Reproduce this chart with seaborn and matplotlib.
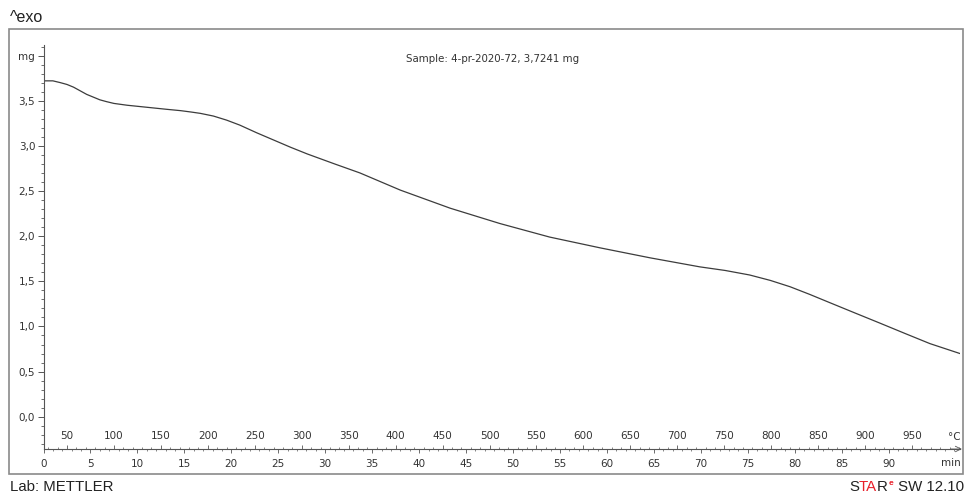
import numpy as np
import pandas as pd
import seaborn as sns
import matplotlib.pyplot as plt
from matplotlib.patches import Rectangle
from matplotlib.ticker import MultipleLocator, FixedLocator, FixedFormatter
import matplotlib.transforms as mtransforms

# TGA curve: time in min, mass in mg
time_min = [0.0, 1.0, 1.8, 2.5, 3.2, 3.9, 4.6, 5.3, 6.0, 6.7, 7.5, 8.9, 10.3,
            11.7, 13.1, 14.6, 15.7, 16.7, 17.4, 18.1, 19.5, 20.9, 22.7, 24.5,
            26.3, 28.1, 31.0, 33.7, 38.0, 43.3, 48.6, 53.9, 59.3, 64.6, 69.9,
            72.6, 75.2, 77.4, 79.5, 81.6, 83.7, 86.4, 89.0, 91.8, 94.4, 97.6]
mass_mg = [3.72, 3.72, 3.70, 3.68, 3.65, 3.61, 3.57, 3.54, 3.51, 3.49, 3.47,
           3.45, 3.435, 3.42, 3.405, 3.39, 3.375, 3.36, 3.345, 3.33, 3.285,
           3.23, 3.145, 3.065, 2.985, 2.91, 2.80, 2.70, 2.51, 2.31, 2.14, 1.99,
           1.87, 1.76, 1.66, 1.62, 1.57, 1.51, 1.44, 1.355, 1.265, 1.15, 1.04,
           0.92, 0.81, 0.70]

y_ticks = [0.0, 0.5, 1.0, 1.5, 2.0, 2.5, 3.0, 3.5, 4.0]
y_labels = ['0,0', '0,5', '1,0', '1,5', '2,0', '2,5', '3,0', '3,5', 'mg']
time_ticks = list(range(0, 95, 5))
temp_ticks = list(range(50, 1000, 50))

T_START = 25.0   # deg C at t = 0
RATE = 10.0      # K/min

sample_text = 'Sample: 4-pr-2020-72, 3,7241 mg'

sns.set_style('white')
plt.rcParams['font.family'] = ['DejaVu Sans']

df = pd.DataFrame({'time': time_min, 'mass': mass_mg})

W, H = 969, 494
fig = plt.figure(figsize=(W / 100, H / 100), dpi=100)

# outer frame
fig.patches.append(Rectangle((9 / W, 1 - 474 / H), (963 - 9) / W, (474 - 29) / H,
                             transform=fig.transFigure, fill=False,
                             edgecolor='#8a8a8a', lw=1.2))

ax = fig.add_axes([43.5 / W, 1 - 449 / H, 916.5 / W, (449 - 45) / H])
sns.lineplot(data=df, x='time', y='mass', ax=ax, color='#3c3c3c', lw=0.9)

ax.set_xlim(0, 97.6)
ax.set_ylim(-0.357, 4.117)
ax.set_xlabel('')
ax.set_ylabel('')
for s in ['top', 'right']:
    ax.spines[s].set_visible(False)
for s in ['left', 'bottom']:
    ax.spines[s].set_color('#555555')
    ax.spines[s].set_linewidth(0.8)

grey = '#333333'
ax.yaxis.set_major_locator(FixedLocator(y_ticks))
ax.yaxis.set_major_formatter(FixedFormatter(y_labels))
ax.yaxis.set_minor_locator(MultipleLocator(0.1))
ax.tick_params(axis='y', which='major', length=4, width=0.7, color='#555555',
               labelsize=7.5, labelcolor=grey, pad=2, left=True)
ax.tick_params(axis='y', which='minor', length=2, width=0.6, color='#555555', left=True)

ax.xaxis.set_major_locator(FixedLocator(time_ticks))
ax.xaxis.set_minor_locator(MultipleLocator(1))
ax.tick_params(axis='x', which='major', length=3, width=0.6, color='#555555',
               labelsize=7.5, labelcolor=grey, pad=4.5, bottom=True)
ax.tick_params(axis='x', which='minor', length=1.5, width=0.5, color='#555555', bottom=True)

# temperature scale on the same axis line, ticks and labels above it
sec = ax.secondary_xaxis(0.0, functions=(lambda t: T_START + RATE * t,
                                         lambda T: (T - T_START) / RATE))
sec.set_alignment('top')
sec.spines['top'].set_visible(False)
sec.xaxis.set_major_locator(FixedLocator(temp_ticks))
sec.xaxis.set_minor_locator(MultipleLocator(10))
sec.tick_params(axis='x', which='major', length=3, width=0.6, color='#555555',
                labelsize=7.5, labelcolor=grey, pad=3)
sec.tick_params(axis='x', which='minor', length=1.8, width=0.5, color='#555555')

trans = mtransforms.blended_transform_factory(ax.transData, ax.transAxes)
ax.text(96.6, -0.023, 'min', transform=trans, ha='center', va='top',
        fontsize=7.5, color=grey)
ax.text(97.0, 0.017, '\u00b0C', transform=trans, ha='center', va='bottom',
        fontsize=7.5, color=grey)
ax.annotate('', xy=(1.002, 0), xytext=(0.99, 0), xycoords='axes fraction',
            arrowprops=dict(arrowstyle='->', lw=0.6, color='#555555',
                            shrinkA=0, shrinkB=0))

fig.text(492.5 / W, 1 - 59 / H, sample_text, ha='center', va='center',
         fontsize=7.4, color=grey)

label_font = 'Liberation Sans'
fig.text(10 / W, 1 - 18 / H, '^exo', ha='left', va='center',
         fontsize=11.5, color='#222222', family=label_font)
fig.text(10 / W, (H - 491) / H, 'Lab: METTLER', ha='left', va='baseline',
         fontsize=10.8, color='#222222', family=label_font)

# STAR(e) SW 12.10 logo, pieces laid out left to right
renderer = fig.canvas.get_renderer()
logo_parts = [('S', '#222222', 10.8, 0.0), ('TA', '#e8202a', 10.8, 0.0),
              ('R', '#222222', 10.8, 0.0), ('e', '#e8202a', 6.0, 6.0),
              (' SW 12.10', '#222222', 10.8, 0.0)]
x_px = 849.0
for txt, col, size, rise in logo_parts:
    t = fig.text(x_px / W, (H - 491 + rise) / H, txt, ha='left', va='baseline',
                 fontsize=size, color=col, family=label_font,
                 weight='bold' if txt == 'e' else 'normal')
    x_px = t.get_window_extent(renderer).x1 + (1 if txt == 'R' else 0)

fig.savefig('out.png', dpi=100)
